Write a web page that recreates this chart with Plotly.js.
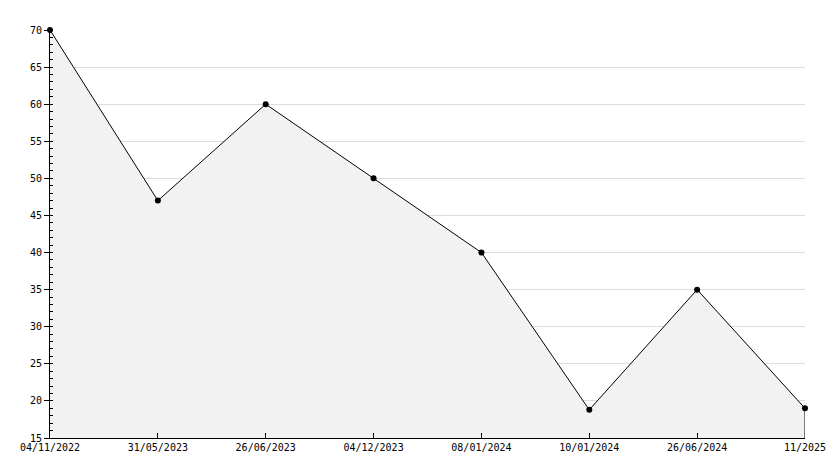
<!DOCTYPE html>
<html><head><meta charset="utf-8">
<script src="https://cdn.plot.ly/plotly-3.0.1.min.js"></script>
<style>html,body{margin:0;padding:0;background:#fff}</style>
</head><body><div id="chart" style="width:834px;height:468px"></div>
<script>
const categories = ["04/11/2022","31/05/2023","26/06/2023","04/12/2023","08/01/2024","10/01/2024","26/06/2024","11/2025"];
const values = [70, 47, 60, 50, 40, 18.8, 35, 19];
const yMin = 15, yMax = 70;

const font = {family: "DejaVu Sans Mono, monospace", size: 10, color: "#000"};
const data = [
  {x: categories, y: values, type: "scatter", mode: "lines+markers", fill: "tozeroy",
   fillcolor: "#f2f2f2", line: {color: "#000", width: 1},
   marker: {symbol: "circle", size: 6, color: "#000"}, cliponaxis: false, hoverinfo: "skip"},
  {x: [categories[categories.length-1], categories[categories.length-1]],
   y: [yMin, values[values.length-1]], type: "scatter", mode: "lines",
   line: {color: "#000", width: 1}, hoverinfo: "skip"}
];
const layout = {
  width: 834, height: 468, showlegend: false,
  margin: {l: 50, r: 29, t: 30, b: 30},
  paper_bgcolor: "#fff", plot_bgcolor: "#fff", font: font,
  xaxis: {type: "category", range: [0, categories.length-1], showgrid: false,
    showline: true, linecolor: "#000", linewidth: 1, ticks: "inside", ticklen: 5,
    tickcolor: "#000", tickfont: font, zeroline: false, fixedrange: true},
  yaxis: {range: [yMin, yMax], dtick: 5, tick0: 0, showgrid: true, gridcolor: "#dddddd",
    showline: true, linecolor: "#000", linewidth: 1, ticks: "outside", ticklen: 5,
    tickcolor: "#000", tickfont: font, zeroline: false, fixedrange: true,
    minor: {dtick: 1, ticks: "inside", ticklen: 3, tickcolor: "#000", showgrid: false}}
};
Plotly.newPlot("chart", data, layout, {staticPlot: true});
</script></body></html>
